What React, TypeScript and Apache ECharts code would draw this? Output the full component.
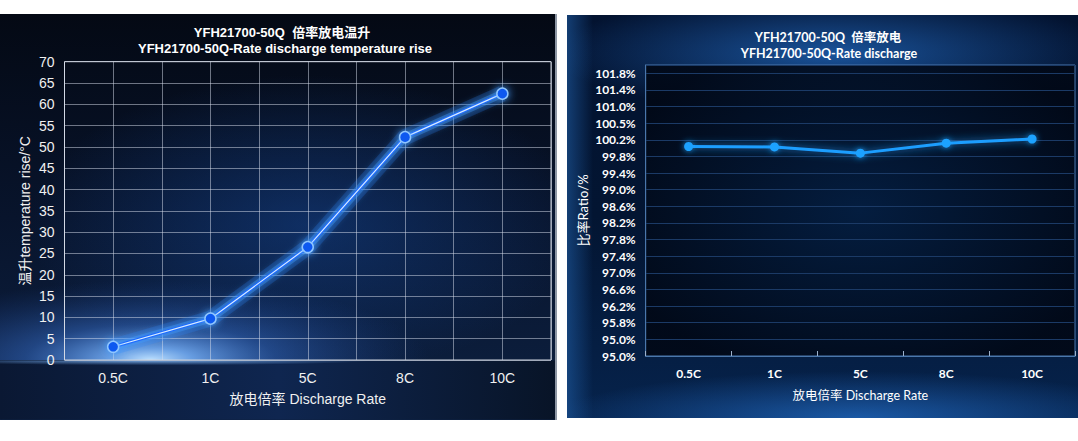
import React, { useEffect, useRef } from 'react';
import * as echarts from 'echarts';

const categories = ['0.5C', '1C', '5C', '8C', '10C'];
const tempRise = [3.1, 9.7, 26.5, 52.3, 62.5];
const ratio = [100.04, 100.03, 99.88, 100.12, 100.22];
const ratioTickLabels = ['95.0%', '95.0%', '95.8%', '96.2%', '96.6%', '97.0%', '97.4%', '97.8%', '98.2%', '98.6%', '99.0%', '99.4%', '99.8%', '100.2%', '100.5%', '101.0%', '101.4%', '101.8%'];
const leftTitle = ['YFH21700-50Q  倍率放电温升', 'YFH21700-50Q-Rate discharge temperature rise'];
const rightTitle = ['YFH21700-50Q  倍率放电', 'YFH21700-50Q-Rate discharge'];
const xName = '放电倍率 Discharge Rate';
const leftYName = '温升temperature rise/°C';
const rightYName = '比率Ratio/%';

const ARIAL = '"Liberation Sans", Arial, "Noto Sans CJK SC", sans-serif';
const LATO = 'Lato, "Noto Sans CJK SC", sans-serif';

const radial = (x: number, y: number, r: number, stops: [number, string][]) => ({
  type: 'radial', x, y, r,
  colorStops: stops.map(([offset, color]) => ({ offset, color })),
});
const linear = (x2: number, y2: number, stops: [number, string][]) => ({
  type: 'linear', x: 0, y: 0, x2, y2,
  colorStops: stops.map(([offset, color]) => ({ offset, color })),
});
const bgRect = (z: number, x: number, y: number, width: number, height: number, fill: any) => ({
  type: 'rect', z, silent: true, shape: { x, y, width, height }, style: { fill },
});

export default function App() {
  const ref = useRef<HTMLDivElement>(null);
  useEffect(() => {
    if (!ref.current) return;
    const chart = echarts.init(ref.current, undefined, { renderer: 'svg' });
    const gridLeft = { left: 64.5, top: 61.7, width: 486.5, height: 298.3 };
    const gridRight = { left: 645.7, top: 65, width: 429.3, height: 291 };
    const option: any = {
      animation: false,
      backgroundColor: '#ffffff',
      graphic: [
        // left panel
        bgRect(-20, 0, 14, 557, 406, linear(0, 1, [[0, '#040914'], [0.5, '#08142c'], [1, '#0d2142']])),
        bgRect(-19, 0, 60, 557, 300, radial(0.55, 0.55, 0.5, [[0, 'rgba(25,85,180,0.4)'], [1, 'rgba(25,85,180,0)']])),
        bgRect(-18, 0, 200, 557, 160, radial(0.27, 1, 0.5, [[0, 'rgba(190,225,255,1)'], [0.15, 'rgba(120,180,255,0.85)'], [0.45, 'rgba(60,120,220,0.45)'], [1, 'rgba(30,70,150,0)']])),
        bgRect(-17, 0, 360.5, 557, 59, linear(1, 0, [[0, '#0a1833'], [0.5, '#0f2650'], [1, '#081427']])),
        bgRect(-17, 0, 360.5, 557, 12, radial(0.27, 0, 0.4, [[0, 'rgba(140,195,255,0.85)'], [1, 'rgba(120,180,255,0)']])),
        bgRect(-16, 555, 14, 2, 406, '#8d96a4'),
        // right panel
        bgRect(-20, 567, 15, 511, 403, linear(0, 1, [[0, '#031330'], [0.5, '#031532'], [1, '#06234c']])),
        bgRect(-19, 567, 15, 511, 110, radial(0.52, 0.35, 0.55, [[0, 'rgba(40,125,225,0.6)'], [1, 'rgba(40,120,220,0)']])),
        bgRect(-19, 567, 340, 511, 78, radial(0.57, 1, 0.6, [[0, 'rgba(40,125,225,0.6)'], [1, 'rgba(40,120,220,0)']])),
        bgRect(-19, 567, 15, 26, 403, linear(1, 0, [[0, 'rgba(30,90,160,0.6)'], [1, 'rgba(30,90,160,0)']])),
        bgRect(-18, gridRight.left, gridRight.top, gridRight.width, gridRight.height,
          radial(0.5, 0.5, 0.6, [[0, 'rgba(4,30,65,0.9)'], [1, 'rgba(1,8,22,0.92)']])),
        // titles
        { type: 'text', z: 100, x: 282, y: 32, style: { text: leftTitle[0], fill: '#ffffff', fontSize: 13, fontWeight: 'bold', fontFamily: ARIAL, align: 'center', verticalAlign: 'middle' } },
        { type: 'text', z: 100, x: 285, y: 48, style: { text: leftTitle[1], fill: '#ffffff', fontSize: 13, fontWeight: 'bold', fontFamily: ARIAL, align: 'center', verticalAlign: 'middle' } },
        { type: 'text', z: 100, x: 828, y: 37, style: { text: rightTitle[0], fill: '#ffffff', fontSize: 12.5, fontWeight: 'bold', fontFamily: LATO, align: 'center', verticalAlign: 'middle' } },
        { type: 'text', z: 100, x: 829, y: 53.5, style: { text: rightTitle[1], fill: '#ffffff', fontSize: 12.5, fontWeight: 'bold', fontFamily: LATO, align: 'center', verticalAlign: 'middle' } },
      ],
      grid: [
        { ...gridLeft, show: true, borderColor: '#cfd5df', borderWidth: 1, backgroundColor: 'transparent', outerBoundsMode: 'none', containLabel: false },
        { ...gridRight, show: true, borderColor: '#4a77ac', borderWidth: 1, backgroundColor: 'transparent', outerBoundsMode: 'none', containLabel: false },
      ],
      xAxis: [
        {
          gridIndex: 0, type: 'category', data: categories, boundaryGap: true,
          axisLine: { show: false }, axisTick: { show: false }, splitLine: { show: false },
          axisLabel: { color: '#f0f0f0', fontSize: 14, fontFamily: ARIAL, margin: 11 },
          name: xName, nameLocation: 'middle', nameGap: 32,
          nameTextStyle: { color: '#f0f0f0', fontSize: 14, fontFamily: ARIAL },
        },
        {
          gridIndex: 0, type: 'value', min: 0, max: 10, interval: 1, position: 'bottom',
          axisLine: { show: false }, axisTick: { show: false }, axisLabel: { show: false },
          splitLine: { show: true, lineStyle: { color: 'rgba(215,222,235,0.5)', width: 1 } },
        },
        {
          gridIndex: 1, type: 'category', data: categories, boundaryGap: true,
          axisLine: { show: true, lineStyle: { color: '#4a77ac' } },
          axisTick: { show: true, inside: true, length: 5, lineStyle: { color: '#9db2cc' } },
          splitLine: { show: false },
          axisLabel: { color: '#ffffff', fontSize: 12, fontWeight: 'bold', fontFamily: LATO, margin: 11 },
          name: xName, nameLocation: 'middle', nameGap: 33,
          nameTextStyle: { color: '#ffffff', fontSize: 12.5, fontFamily: LATO },
        },
      ],
      yAxis: [
        {
          gridIndex: 0, type: 'value', min: 0, max: 70, interval: 5,
          axisLine: { show: false }, axisTick: { show: false },
          splitLine: { show: true, lineStyle: { color: 'rgba(215,222,235,0.5)', width: 1 } },
          axisLabel: { color: '#f0f0f0', fontSize: 14, fontFamily: ARIAL, margin: 10 },
          name: leftYName, nameLocation: 'middle', nameGap: 33,
          nameTextStyle: { color: '#f0f0f0', fontSize: 14, fontFamily: ARIAL },
        },
        {
          gridIndex: 1, type: 'value', min: 95, max: 102, interval: 0.4,
          axisLine: { show: true, lineStyle: { color: '#4a77ac' } }, axisTick: { show: false },
          splitLine: { show: true, lineStyle: { color: '#1b3a66', width: 1 } },
          axisLabel: {
            color: '#ffffff', fontSize: 12, fontWeight: 'bold', fontFamily: LATO, margin: 10,
            formatter: (v: number) => {
              if (v > 101.95) return '';
              const i = Math.round((v - 95) / 0.4);
              return ratioTickLabels[i] ?? '';
            },
          },
          name: rightYName, nameLocation: 'middle', nameGap: 56,
          nameTextStyle: { color: '#ffffff', fontSize: 13, fontFamily: LATO },
        },
      ],
      series: [
        {
          type: 'line', xAxisIndex: 0, yAxisIndex: 0, data: tempRise, z: 2,
          symbol: 'none', silent: true,
          lineStyle: { color: 'rgba(40,130,255,0.22)', width: 16 },
        },
        {
          type: 'line', xAxisIndex: 0, yAxisIndex: 0, data: tempRise, z: 2,
          symbol: 'none', silent: true,
          lineStyle: { color: 'rgba(60,150,255,0.4)', width: 8 },
        },
        {
          type: 'line', xAxisIndex: 0, yAxisIndex: 0, data: tempRise, z: 3,
          symbol: 'none', silent: true,
          lineStyle: { color: '#1f6cff', width: 3.5, shadowBlur: 10, shadowColor: 'rgba(70,160,255,1)' },
        },
        {
          type: 'line', xAxisIndex: 0, yAxisIndex: 0, data: tempRise, z: 4,
          symbol: 'circle', symbolSize: 11,
          lineStyle: { color: 'rgba(225,242,255,0.95)', width: 1.2 },
          itemStyle: { color: '#0b58f0', borderColor: '#8fc6ff', borderWidth: 1.5, shadowBlur: 10, shadowColor: '#4aa0ff' },
        },
        {
          type: 'line', xAxisIndex: 2, yAxisIndex: 1, data: ratio, z: 4,
          symbol: 'circle', symbolSize: 9,
          lineStyle: { color: '#1e9eff', width: 3, shadowBlur: 8, shadowColor: 'rgba(30,160,255,0.85)' },
          itemStyle: { color: '#1ea2ff', shadowBlur: 6, shadowColor: 'rgba(30,160,255,0.85)' },
        },
      ],
    };
    chart.setOption(option);
    return () => chart.dispose();
  }, []);
  return <div ref={ref} style={{ position: 'absolute', left: 0, top: 0, width: 1078, height: 441 }} />;
}
